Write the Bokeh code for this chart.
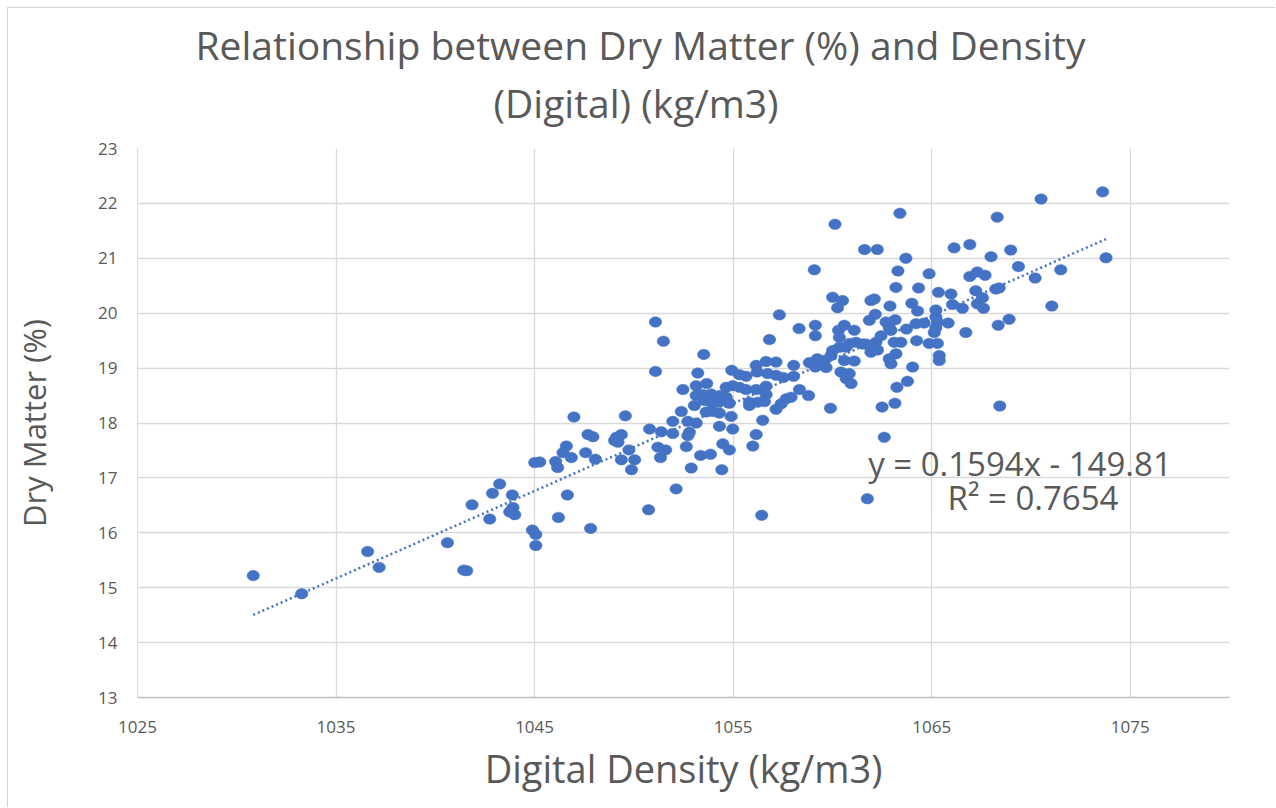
from bokeh.plotting import figure
from bokeh.models import Range1d, Label, FixedTicker, ColumnDataSource, Title
from bokeh.embed import file_html
from bokeh.resources import INLINE

# Digital density (kg/m3) of each sample
density = [
    1030.83, 1033.27, 1036.59, 1037.17, 1040.61, 1041.43, 1041.58, 1041.85,
    1042.74, 1042.88, 1043.24, 1043.88, 1043.91, 1043.75, 1044.00, 1044.89,
    1045.06, 1045.06, 1045.01, 1045.26, 1046.06, 1046.16, 1046.20, 1046.43,
    1046.60, 1046.65, 1046.85, 1046.98, 1047.57, 1047.69, 1047.94, 1047.82,
    1048.06, 1049.03, 1049.12, 1049.20, 1049.37, 1049.37, 1049.57, 1049.75,
    1049.88, 1050.04, 1050.74, 1050.79, 1051.09, 1051.09, 1051.21, 1051.38,
    1051.49, 1051.34, 1051.60, 1051.96, 1051.96, 1052.13, 1052.47, 1052.39,
    1052.72, 1053.14, 1052.80, 1052.72, 1052.64, 1052.89, 1053.14, 1053.67,
    1053.22, 1053.52, 1053.14, 1053.47, 1053.89, 1054.31, 1054.65, 1053.05,
    1053.56, 1053.97, 1054.31, 1054.81, 1053.64, 1053.97, 1054.31, 1054.90,
    1054.31, 1054.98, 1054.48, 1054.81, 1053.36, 1053.86, 1054.43, 1054.65,
    1054.98, 1055.32, 1055.65, 1054.93, 1055.32, 1055.65, 1056.16, 1056.21,
    1056.66, 1057.16, 1056.74, 1057.16, 1056.16, 1056.66, 1056.66, 1055.82,
    1056.24, 1056.58, 1055.82, 1056.49, 1056.16, 1055.99, 1056.44, 1056.83,
    1057.33, 1057.53, 1058.05, 1058.05, 1057.67, 1057.92, 1057.42, 1057.16,
    1058.32, 1058.34, 1058.80, 1059.09, 1059.14, 1059.14, 1058.84, 1059.24,
    1059.59, 1059.93, 1059.14, 1059.68, 1059.90, 1060.13, 1060.01, 1060.51,
    1060.26, 1060.31, 1060.60, 1061.10, 1060.35, 1060.85, 1061.19, 1061.52,
    1060.01, 1060.35, 1060.69, 1060.60, 1061.10, 1060.43, 1060.85, 1060.69,
    1060.94, 1061.62, 1062.26, 1061.94, 1062.11, 1062.16, 1061.86, 1061.69,
    1062.19, 1061.94, 1061.94, 1062.27, 1062.45, 1062.70, 1062.86, 1062.95,
    1062.90, 1063.16, 1063.11, 1063.45, 1062.86, 1063.20, 1062.95, 1063.25,
    1062.50, 1063.15, 1062.61, 1063.40, 1063.70, 1063.30, 1063.20, 1064.34,
    1064.00, 1064.29, 1063.73, 1064.21, 1064.62, 1064.24, 1064.04, 1063.78,
    1064.87, 1065.34, 1065.21, 1065.21, 1065.29, 1065.21, 1065.13, 1064.87,
    1065.29, 1065.38, 1065.38, 1061.76, 1065.83, 1066.13, 1066.92, 1066.92,
    1067.30, 1067.69, 1067.22, 1065.97, 1066.05, 1066.55, 1067.30, 1067.61,
    1067.56, 1066.72, 1067.99, 1068.30, 1068.98, 1068.23, 1068.40, 1068.35,
    1068.90, 1069.37, 1070.21, 1070.51, 1071.05, 1071.50, 1073.61, 1073.78,
    1068.43,
]

# Dry matter (%) of the same samples
dry_matter = [
    15.22, 14.89, 15.66, 15.37, 15.82, 15.32, 15.31, 16.51,
    16.25, 16.72, 16.89, 16.69, 16.46, 16.38, 16.33, 16.05,
    15.97, 15.77, 17.28, 17.29, 17.30, 17.19, 16.28, 17.46,
    17.58, 16.69, 17.37, 18.11, 17.46, 17.79, 17.75, 16.08,
    17.34, 17.68, 17.74, 17.65, 17.79, 17.33, 18.13, 17.51,
    17.15, 17.33, 16.42, 17.89, 19.84, 18.94, 17.56, 17.84,
    19.49, 17.37, 17.51, 18.03, 17.81, 16.80, 18.61, 18.21,
    18.03, 18.00, 17.83, 17.77, 17.57, 17.18, 18.68, 18.72,
    18.91, 19.25, 18.50, 18.52, 18.53, 18.50, 18.47, 18.32,
    18.41, 18.35, 18.38, 18.36, 18.20, 18.21, 18.18, 18.12,
    17.94, 17.89, 17.62, 17.51, 17.41, 17.43, 17.15, 18.65,
    18.68, 18.65, 18.61, 18.96, 18.88, 18.85, 19.05, 18.93,
    19.12, 19.11, 18.90, 18.87, 18.61, 18.67, 18.52, 18.38,
    18.38, 18.39, 18.32, 18.05, 17.79, 17.58, 16.32, 19.52,
    19.97, 18.83, 18.85, 19.05, 18.44, 18.47, 18.35, 18.25,
    19.72, 18.61, 18.50, 20.79, 19.78, 19.59, 19.10, 19.17,
    19.14, 19.23, 19.02, 19.01, 18.27, 21.62, 20.29, 20.23,
    20.10, 19.69, 19.78, 19.69, 19.56, 19.45, 19.47, 19.44,
    19.32, 19.38, 19.38, 19.14, 19.13, 18.93, 18.90, 18.81,
    18.72, 21.16, 21.16, 20.23, 20.26, 19.98, 19.87, 19.44,
    19.47, 19.38, 19.29, 19.33, 19.59, 19.84, 19.74, 19.69,
    20.13, 19.88, 19.47, 19.47, 19.17, 19.26, 19.08, 18.65,
    18.29, 18.36, 17.74, 21.82, 21.00, 20.77, 20.47, 20.46,
    20.18, 20.04, 19.71, 19.81, 19.82, 19.50, 19.02, 18.76,
    20.72, 20.38, 20.06, 19.93, 19.84, 19.74, 19.65, 19.45,
    19.45, 19.23, 19.14, 16.62, 19.82, 21.19, 21.25, 20.67,
    20.75, 20.69, 20.41, 20.35, 20.16, 20.09, 20.17, 20.09,
    20.28, 19.65, 21.03, 21.75, 21.15, 20.44, 20.46, 19.78,
    19.89, 20.85, 20.64, 22.08, 20.13, 20.79, 22.21, 21.01,
    18.31,
]

# Linear trendline as reported on the chart
slope = 0.1594
intercept = -149.81
r_squared = 0.7654

x_ticks = [1025, 1035, 1045, 1055, 1065, 1075]
y_ticks = [13, 14, 15, 16, 17, 18, 19, 20, 21, 22, 23]

title_lines = ["Relationship between Dry Matter (%) and Density", "(Digital) (kg/m3)"]
x_title = "Digital Density (kg/m3)"
y_title = "Dry Matter (%)"

TEXT = "#595959"
BLUE = "#4472C4"
GRID = "#D9D9D9"
FONT = "Open Sans"

p = figure(
    width=1268, height=800, title=None,
    output_backend="svg", toolbar_location=None,
    x_range=Range1d(1025, 1080), y_range=Range1d(13, 23),
    min_border_left=129, min_border_right=47,
    min_border_top=140, min_border_bottom=111,
)
# chart-area border along the top and left edges
p.margin = (7, 0, 0, 7)
p.styles = {"border-top": "1px solid #D4D4D4", "border-left": "1px solid #D4D4D4"}
p.outline_line_color = None
p.background_fill_color = "white"
p.border_fill_color = "white"

p.xaxis.ticker = FixedTicker(ticks=x_ticks)
p.yaxis.ticker = FixedTicker(ticks=y_ticks)
p.xgrid.ticker = FixedTicker(ticks=x_ticks)
p.ygrid.ticker = FixedTicker(ticks=y_ticks)

for grid in (p.xgrid, p.ygrid):
    grid.grid_line_color = GRID
    grid.grid_line_width = 1.3

for axis in (p.xaxis, p.yaxis):
    axis.major_tick_line_color = None
    axis.minor_tick_line_color = None
    axis.major_label_text_color = TEXT
    axis.major_label_text_font = FONT
    axis.major_label_text_font_size = "17px"
    axis.axis_label_text_color = TEXT
    axis.axis_label_text_font = FONT
    axis.axis_label_text_font_style = "normal"

p.xaxis.axis_label_text_font_size = "38px"
p.yaxis.axis_label_text_font_size = "31px"
p.xaxis.axis_line_color = "#BFBFBF"
p.xaxis.axis_line_width = 1.5
p.yaxis.axis_line_color = GRID
p.xaxis.axis_label = x_title
p.yaxis.axis_label = y_title
p.xaxis.major_label_standoff = 17
p.xaxis.axis_label_standoff = 6
p.yaxis.major_label_standoff = 14
p.yaxis.axis_label_standoff = 40

# trendline across the observed density range
x0, x1 = min(density), max(density)
p.line([x0, x1], [slope * x0 + intercept, slope * x1 + intercept],
       line_color=BLUE, line_width=2.5, line_dash="2 3")

src = ColumnDataSource(dict(x=density, y=dry_matter))
p.ellipse("x", "y", source=src, width=12.5, height=10.5,
          width_units="screen", height_units="screen",
          fill_color=BLUE, line_color=BLUE, line_width=0.5)

eq_text = f"y = {slope}x - {abs(intercept)}"
r2_text = f"R\u00b2 = {r_squared}"
p.add_layout(Label(x=1061.8, y=17.255, text=eq_text, text_color=TEXT,
                   text_font=FONT, text_font_size="33px", text_baseline="alphabetic"))
p.add_layout(Label(x=1065.8, y=16.635, text=r2_text, text_color=TEXT,
                   text_font=FONT, text_font_size="33px", text_baseline="alphabetic"))

# two-line chart title, second line nearest the plot
for line, gap, shift in ((title_lines[1], 39, 356), (title_lines[0], -32, 58)):
    p.add_layout(Title(text=line, align="left", offset=shift, standoff=gap,
                       text_color=TEXT, text_font=FONT, text_font_size="39px",
                       text_font_style="normal"), "above")

open("out.html", "w").write(file_html(p, INLINE))
